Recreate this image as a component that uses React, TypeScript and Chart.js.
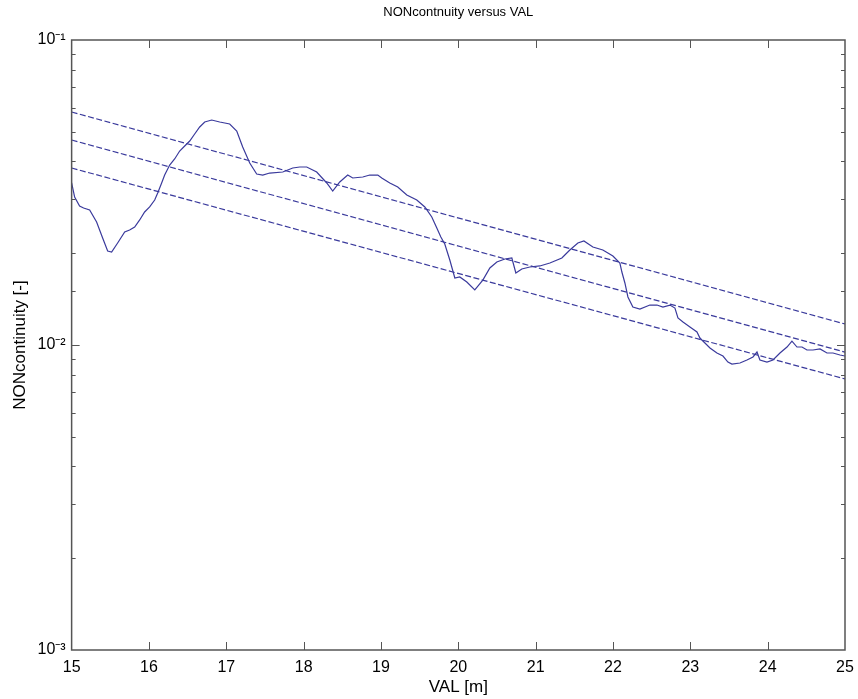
import React, { useEffect, useRef } from "react";
import { Chart, registerables } from "chart.js";

Chart.register(...registerables);

// ---- data ----
const curveX = [
  15.0, 15.039, 15.103, 15.155, 15.233, 15.323, 15.401, 15.466, 15.517, 15.595,
  15.686, 15.75, 15.815, 15.88, 15.944, 16.009, 16.074, 16.113, 16.164, 16.203,
  16.268, 16.332, 16.397, 16.462, 16.527, 16.591, 16.656, 16.721, 16.811, 16.915,
  17.044, 17.135, 17.212, 17.303, 17.393, 17.471, 17.561, 17.73, 17.859, 17.95,
  18.04, 18.169, 18.299, 18.376, 18.467, 18.57, 18.635, 18.765, 18.855, 18.959,
  19.01, 19.114, 19.217, 19.334, 19.463, 19.567, 19.657, 19.722, 19.774, 19.825,
  19.89, 19.955, 20.019, 20.11, 20.213, 20.317, 20.408, 20.498, 20.602, 20.692,
  20.744, 20.821, 20.925, 21.054, 21.184, 21.339, 21.442, 21.546, 21.624, 21.74,
  21.869, 21.999, 22.089, 22.115, 22.154, 22.193, 22.257, 22.348, 22.477, 22.568,
  22.646, 22.736, 22.801, 22.84, 22.905, 22.995, 23.086, 23.124, 23.189, 23.254,
  23.344, 23.422, 23.486, 23.538, 23.642, 23.732, 23.81, 23.862, 23.9, 23.991,
  24.069, 24.159, 24.25, 24.314, 24.379, 24.444, 24.508, 24.586, 24.677, 24.767,
  24.845, 24.935, 25.0,
];
const curveY = [
  0.03398, 0.03056, 0.02856, 0.02813, 0.02771, 0.02531, 0.02243, 0.02033, 0.02018, 0.0216,
  0.02347, 0.02382, 0.02437, 0.0257, 0.0273, 0.02835, 0.02988, 0.0315, 0.03398, 0.03608,
  0.03892, 0.04073, 0.04325, 0.04492, 0.04665, 0.04918, 0.05186, 0.05384, 0.05466, 0.05384,
  0.05304, 0.0503, 0.04458, 0.03951, 0.03636, 0.03608, 0.03663, 0.03691, 0.03805, 0.03834,
  0.03834, 0.03691, 0.03398, 0.03198, 0.03424, 0.03608, 0.03528, 0.03555, 0.03608, 0.03608,
  0.03528, 0.03398, 0.03296, 0.03102, 0.02988, 0.02835, 0.02629, 0.02418, 0.0226, 0.02144,
  0.019, 0.01658, 0.01671, 0.01609, 0.01515, 0.01633, 0.01789, 0.01871, 0.01914, 0.01929,
  0.01722, 0.01775, 0.01802, 0.01816, 0.01857, 0.01929, 0.02048, 0.0216, 0.02193, 0.02096,
  0.02048, 0.01958, 0.01857, 0.01735, 0.01597, 0.01437, 0.01332, 0.01312, 0.01352, 0.01352,
  0.01332, 0.01352, 0.01322, 0.01226, 0.0119, 0.01146, 0.01103, 0.01054, 0.01015, 0.009777,
  0.009414, 0.009202, 0.008795, 0.008663, 0.008729, 0.008929, 0.009134, 0.009484, 0.008929, 0.008795,
  0.008929, 0.009414, 0.009849, 0.0103, 0.009849, 0.009849, 0.00963, 0.00963, 0.009703, 0.009414,
  0.009414, 0.009273, 0.009202,
];

const fitX = [15, 25];
const fitUpperY = [0.05806, 0.01172];
const fitMiddleY = [0.047, 0.00948];
const fitLowerY = [0.03805, 0.00774];

const xTickValues = [15, 16, 17, 18, 19, 20, 21, 22, 23, 24, 25];
const xTickLabels = ["15", "16", "17", "18", "19", "20", "21", "22", "23", "24", "25"];
const yTickValues = [0.001, 0.01, 0.1];
const yTickLabels = ["10\u207B\u00B3", "10\u207B\u00B2", "10\u207B\u00B9"];

const titleText = "NONcontnuity versus VAL";
const xTitle = "VAL [m]";
const yTitle = "NONcontinuity [-]";

const LINE_COLOR = "#3a3a9c";
const AXIS_COLOR = "#555555";
const FONT = "'Liberation Sans', Arial, Helvetica, sans-serif";

const toPoints = (xs: number[], ys: number[]) => xs.map((x, i) => ({ x, y: ys[i] }));

const isDecade = (v: number) => {
  const e = Math.log10(v);
  return Math.abs(e - Math.round(e)) < 1e-6;
};

const axisDecor = {
  id: "axisDecor",
  afterDatasetsDraw(chart: any) {
    const { ctx, chartArea: a, scales } = chart;
    const xs = scales.x;
    const ys = scales.y;
    ctx.save();
    ctx.strokeStyle = AXIS_COLOR;
    ctx.lineWidth = 1;
    ctx.beginPath();
    xs.ticks.forEach((t: any) => {
      if (t.value <= xs.min || t.value >= xs.max) return;
      const px = Math.round(xs.getPixelForValue(t.value)) + 0.5;
      ctx.moveTo(px, a.bottom);
      ctx.lineTo(px, a.bottom - 8);
      ctx.moveTo(px, a.top);
      ctx.lineTo(px, a.top + 8);
    });
    ys.ticks.forEach((t: any) => {
      if (t.value <= ys.min * 1.0001 || t.value >= ys.max * 0.9999) return;
      const py = Math.round(ys.getPixelForValue(t.value)) + 0.5;
      const len = isDecade(t.value) ? 8 : 4;
      ctx.moveTo(a.left, py);
      ctx.lineTo(a.left + len, py);
      ctx.moveTo(a.right, py);
      ctx.lineTo(a.right - len, py);
    });
    ctx.stroke();
    ctx.lineWidth = 1.5;
    ctx.strokeRect(a.left, a.top, a.right - a.left, a.bottom - a.top);
    ctx.restore();
  },
};

export default function App() {
  const canvasRef = useRef<HTMLCanvasElement | null>(null);

  useEffect(() => {
    document.body.style.margin = "0";
    const canvas = canvasRef.current;
    if (!canvas) return;
    const lineDs = (label: string, data: any, dashed: boolean) => ({
      label,
      data,
      xAxisID: "x",
      yAxisID: "y",
      borderColor: LINE_COLOR,
      backgroundColor: LINE_COLOR,
      borderWidth: 1.2,
      borderDash: dashed ? [6, 2.5] : [],
      pointRadius: 0,
      tension: 0,
      fill: false,
    });
    const chart = new Chart(canvas, {
      type: "line",
      data: {
        datasets: [
          lineDs("NONcontinuity", toPoints(curveX, curveY), false),
          lineDs("upper", toPoints(fitX, fitUpperY), true),
          lineDs("fit", toPoints(fitX, fitMiddleY), true),
          lineDs("lower", toPoints(fitX, fitLowerY), true),
        ],
      },
      options: {
        animation: false,
        responsive: true,
        maintainAspectRatio: false,
        layout: { padding: { top: 0, right: 13, bottom: 0, left: 0 } },
        plugins: {
          legend: { display: false },
          tooltip: { enabled: false },
          title: { display: false },
        },
        scales: {
          x: {
            type: "linear",
            position: "bottom",
            min: 15,
            max: 25,
            afterBuildTicks: (scale: any) => {
              scale.ticks = xTickValues.map((v) => ({ value: v }));
            },
            ticks: {
              color: "#000",
              font: { family: FONT, size: 16, lineHeight: 1.6875 },
              padding: 4,
              maxRotation: 0,
              autoSkip: false,
              callback: (v: any) => {
                const i = xTickValues.indexOf(Number(v));
                return i >= 0 ? xTickLabels[i] : "";
              },
            },
            grid: { display: true, drawOnChartArea: false, drawTicks: false, color: "rgba(0,0,0,0)" },
            border: { display: false },
            title: {
              display: true,
              text: xTitle,
              color: "#000",
              font: { family: FONT, size: 17, lineHeight: 0.294 },
              padding: { top: 0, bottom: 9 },
            },
          },
          xTop: {
            type: "linear",
            position: "top",
            min: 15,
            max: 25,
            ticks: { display: false },
            grid: { display: false, drawTicks: false },
            border: { display: false },
            title: {
              display: true,
              text: titleText,
              color: "#000",
              font: { family: FONT, size: 13, lineHeight: 1 },
              padding: { top: 5.5, bottom: 21.5 },
            },
          },
          y: {
            type: "logarithmic",
            min: 0.001,
            max: 0.1,
            ticks: {
              color: "#000",
              font: { family: FONT, size: 16, lineHeight: 1 },
              padding: 6,
              autoSkip: false,
              callback: (v: any) => {
                const n = Number(v);
                const i = yTickValues.findIndex((t) => Math.abs(t - n) / t < 1e-6);
                return i >= 0 ? yTickLabels[i] : "";
              },
            },
            grid: { display: true, drawOnChartArea: false, drawTicks: false, color: "rgba(0,0,0,0)" },
            border: { display: false },
            title: {
              display: true,
              text: yTitle,
              color: "#000",
              font: { family: FONT, size: 17, lineHeight: 1 },
              padding: { top: 12, bottom: 2.5 },
            },
          },
        },
      },
      plugins: [axisDecor],
    } as any);
    return () => chart.destroy();
  }, []);

  return (
    <div style={{ position: "relative", width: 858, height: 699 }}>
      <canvas ref={canvasRef} />
    </div>
  );
}
